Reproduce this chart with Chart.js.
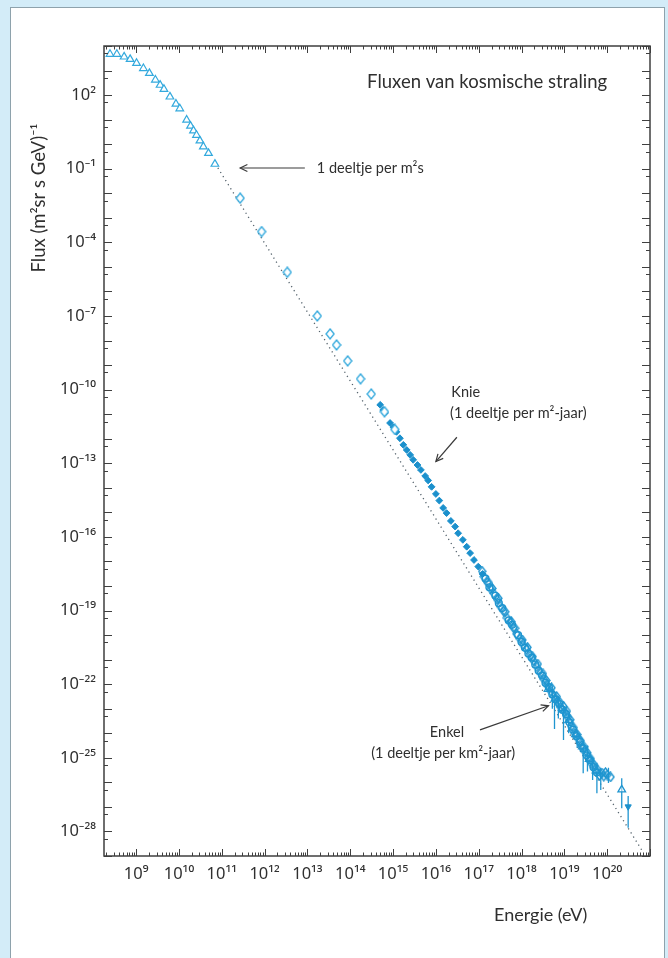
<!DOCTYPE html>
<html><head><meta charset="utf-8">
<script src="https://cdn.jsdelivr.net/npm/chart.js@4.4.1/dist/chart.umd.min.js"></script>
<style>
html,body{margin:0;padding:0;background:#d3ecf8;overflow:hidden;}
#panel{position:absolute;left:10px;top:7px;width:653px;height:980px;background:#fff;border:1px solid #8ea2ac;}
#wrap{position:absolute;left:0;top:0;width:668px;height:958px;}
</style></head><body>
<div id="panel"></div>
<div id="wrap"><canvas id="c" width="668" height="958"></canvas></div>
<script>
// ---- data (log10 of energy in eV, log10 of flux) ----
const triE = [8.39, 8.55, 8.72, 8.86, 9.01, 9.17, 9.31, 9.45, 9.56, 9.65, 9.79, 9.93, 10.02, 10.18, 10.27, 10.34, 10.41, 10.49, 10.57, 10.69, 10.84];
const triF = [3.67, 3.67, 3.56, 3.46, 3.30, 3.09, 2.89, 2.62, 2.41, 2.24, 1.93, 1.64, 1.45, 0.99, 0.74, 0.55, 0.37, 0.14, -0.10, -0.37, -0.81];

const diaE = [11.43, 11.93, 12.53, 13.23, 13.53, 13.68, 13.94, 14.24, 14.49, 14.80, 15.04];
const diaF = [-2.20, -3.56, -5.22, -7.00, -7.73, -8.18, -8.83, -9.56, -10.18, -10.90, -11.62];

const sqE = [14.70, 14.77, 14.81, 14.93, 15.01, 15.08, 15.16, 15.24, 15.32, 15.40, 15.47, 15.57, 15.65, 15.75, 15.82, 15.90, 16.00, 16.08, 16.17, 16.25, 16.35, 16.45, 16.52, 16.63, 16.72, 16.80, 16.89, 16.99, 17.09];
const sqF = [-10.62, -10.83, -10.95, -11.36, -11.53, -11.72, -11.98, -12.25, -12.46, -12.66, -12.86, -13.07, -13.27, -13.52, -13.70, -13.96, -14.25, -14.52, -14.82, -15.03, -15.35, -15.58, -15.85, -16.12, -16.40, -16.66, -16.94, -17.21, -17.51];

const bandDiaE = [17.12, 17.20, 17.28, 17.35, 17.43, 17.50, 17.58, 17.66, 17.73, 17.81, 17.88, 17.96, 18.04, 18.12, 18.20, 18.28, 18.36, 18.44, 18.52, 18.60, 18.68, 18.76, 18.84, 18.92, 19.00, 19.08, 19.16, 19.24, 19.32, 19.40, 19.48, 19.56, 19.64, 19.72, 19.82, 19.92, 20.00, 20.08];
const bandDiaF = [-17.62, -17.85, -18.12, -18.30, -18.55, -18.82, -19.02, -19.30, -19.48, -19.70, -19.95, -20.15, -20.40, -20.58, -20.85, -21.05, -21.30, -21.55, -21.80, -22.05, -22.28, -22.50, -22.72, -22.95, -23.10, -23.35, -23.72, -24.00, -24.22, -24.50, -24.75, -24.98, -25.25, -25.48, -25.72, -25.75, -25.70, -25.78];

const bandDia2E = [17.08, 17.24, 17.32, 17.46, 17.62, 17.76, 17.85, 18.02, 18.14, 18.26, 18.38, 18.50, 18.58, 18.70, 18.82, 18.90, 18.98, 19.06, 19.14, 19.22, 19.30, 19.38, 19.46, 19.54, 19.62, 19.70, 19.78, 19.88, 19.96];
const bandDia2F = [-17.40, -17.88, -18.10, -18.50, -19.05, -19.45, -19.72, -20.20, -20.50, -20.88, -21.18, -21.58, -21.85, -22.15, -22.50, -22.75, -22.90, -23.10, -23.45, -23.78, -24.05, -24.30, -24.55, -24.80, -25.05, -25.30, -25.50, -25.62, -25.60];

const bandCircE = [17.16, 17.25, 17.39, 17.47, 17.55, 17.70, 17.78, 17.92, 18.00, 18.08, 18.16, 18.24, 18.32, 18.40, 18.48, 18.56, 18.64, 18.72, 18.80, 18.88, 18.96, 19.04, 19.12, 19.20, 19.28, 19.36, 19.44, 19.52, 19.60, 19.68, 19.76];
const bandCircF = [-17.70, -18.05, -18.40, -18.70, -18.90, -19.40, -19.58, -20.00, -20.28, -20.52, -20.75, -20.92, -21.20, -21.45, -21.65, -21.95, -22.12, -22.42, -22.62, -22.80, -23.05, -23.22, -23.55, -23.85, -24.12, -24.35, -24.62, -24.90, -25.10, -25.38, -25.60];

const bandTriE = [18.62, 18.78, 18.95, 19.10, 19.26, 19.42, 19.58, 19.74, 20.34];
const bandTriF = [-22.20, -22.60, -22.98, -23.48, -24.05, -24.55, -25.05, -25.52, -26.30];

const downE = [20.49];
const downF = [-26.99];

const errE  = [18.72, 18.77, 18.86, 18.98, 19.10, 19.30, 19.44, 19.54, 19.66, 19.76, 19.85, 20.03, 20.34, 20.49];
const errLo = [-23.00, -23.83, -23.40, -24.27, -24.00, -24.60, -25.63, -25.56, -25.90, -26.44, -26.31, -26.03, -27.05, -27.85];
const errHi = [-22.20, -22.60, -22.55, -22.95, -23.20, -23.90, -24.30, -24.50, -25.00, -25.20, -25.40, -25.40, -25.83, -26.56];

const fitE = [10.85, 20.84];
const fitF = [-0.80, -28.85];

const xTickExp = [9, 10, 11, 12, 13, 14, 15, 16, 17, 18, 19, 20];
const xTickLabels = ['10⁹','10¹⁰','10¹¹','10¹²','10¹³','10¹⁴','10¹⁵','10¹⁶','10¹⁷','10¹⁸','10¹⁹','10²⁰'];
const yTickExp = [2, -1, -4, -7, -10, -13, -16, -19, -22, -25, -28];
const yTickLabels = ['10²','10⁻¹','10⁻⁴','10⁻⁷','10⁻¹⁰','10⁻¹³','10⁻¹⁶','10⁻¹⁹','10⁻²²','10⁻²⁵','10⁻²⁸'];

const chartTitle = 'Fluxen van kosmische straling';
const xTitle = 'Energie (eV)';
const yTitle = 'Flux (m²sr s GeV)⁻¹';
// annotations in data coordinates (log10 E, log10 F)
const notes = [
  {text:'1 deeltje per m²s', e:13.22, f:-0.97, align:'left'},
  {text:'Knie', e:16.36, f:-10.12, align:'left'},
  {text:'(1 deeltje per m²-jaar)', e:16.33, f:-10.98, align:'left'},
  {text:'Enkel', e:16.26, f:-23.95, align:'center'},
  {text:'(1 deeltje per km²-jaar)', e:16.17, f:-24.82, align:'center'}
];
const arrows = [
  {e1:12.94, f1:-0.97, e2:11.43, f2:-0.97},
  {e1:16.49, f1:-11.94, e2:16.00, f2:-12.93},
  {e1:17.03, f1:-23.86, e2:18.63, f2:-22.88}
];

// ---- helpers ----
const pts = (E, F) => E.map((e, i) => ({x: Math.pow(10, e), y: Math.pow(10, F[i])}));
const errPts = [];
errE.forEach((e, i) => {
  errPts.push({x: Math.pow(10, e), y: Math.pow(10, errLo[i])});
  errPts.push({x: Math.pow(10, e), y: Math.pow(10, errHi[i])});
  errPts.push({x: Math.pow(10, e), y: null});
});

function diamond(color, w, h, lw, fill) {
  const c = document.createElement('canvas');
  c.width = w + 2; c.height = h + 2;
  const g = c.getContext('2d');
  g.strokeStyle = color; g.lineWidth = lw;
  g.beginPath();
  g.moveTo(c.width / 2, 1); g.lineTo(c.width - 1, c.height / 2);
  g.lineTo(c.width / 2, c.height - 1); g.lineTo(1, c.height / 2); g.closePath();
  if (fill) { g.fillStyle = fill; g.fill(); }
  g.stroke();
  return c;
}

const C1 = '#33a9dd';
const C2 = '#1b90cc';
const C3 = '#1f95d0';
const TXT = '#2f2f2f';
const FONT = "Lato, 'Noto Sans', sans-serif";

const framePlugin = {
  id: 'frame',
  afterDatasetsDraw(chart) {
    const {ctx, chartArea: a, scales: {x, y}} = chart;
    ctx.save();
    ctx.strokeStyle = '#3f3f3f';
    ctx.lineWidth = 1;
    ctx.beginPath();
    for (let n = 8; n <= 21; n++) {
      for (let k = 1; k <= 9; k++) {
        const v = k * Math.pow(10, n);
        if (v < x.min * 0.999 || v > x.max * 1.001) continue;
        const px = Math.round(x.getPixelForValue(v)) + 0.5;
        const L = k === 1 ? 7 : 3.5;
        ctx.moveTo(px, a.bottom); ctx.lineTo(px, a.bottom - L);
        ctx.moveTo(px, a.top); ctx.lineTo(px, a.top + L);
      }
    }
    for (let n = -29; n <= 4; n++) {
      const list = [[Math.pow(10, n), 8], [5 * Math.pow(10, n - 1), 4]];
      for (const [v, L] of list) {
        if (v < y.min * 0.999 || v > y.max * 1.001) continue;
        const py = Math.round(y.getPixelForValue(v)) + 0.5;
        ctx.moveTo(a.left, py); ctx.lineTo(a.left + L, py);
        ctx.moveTo(a.right, py); ctx.lineTo(a.right - L, py);
      }
    }
    ctx.stroke();
    ctx.lineWidth = 1.5;
    ctx.strokeRect(a.left, a.top, a.right - a.left, a.bottom - a.top);

    const P = (e, f) => [x.getPixelForValue(Math.pow(10, e)), y.getPixelForValue(Math.pow(10, f))];
    // arrows
    ctx.strokeStyle = '#3a3a3a';
    ctx.lineWidth = 1.2;
    for (const ar of arrows) {
      const [x1, y1] = P(ar.e1, ar.f1);
      const [x2, y2] = P(ar.e2, ar.f2);
      ctx.beginPath(); ctx.moveTo(x1, y1); ctx.lineTo(x2, y2); ctx.stroke();
      const ang = Math.atan2(y2 - y1, x2 - x1);
      const hl = 8, hw = 0.45;
      ctx.beginPath();
      ctx.moveTo(x2 - hl * Math.cos(ang - hw), y2 - hl * Math.sin(ang - hw));
      ctx.lineTo(x2, y2);
      ctx.lineTo(x2 - hl * Math.cos(ang + hw), y2 - hl * Math.sin(ang + hw));
      ctx.stroke();
    }
    // texts
    ctx.fillStyle = TXT;
    ctx.textBaseline = 'middle';
    ctx.font = '14.5px ' + FONT;
    for (const n of notes) {
      const [px, py] = P(n.e, n.f);
      ctx.textAlign = n.align;
      ctx.fillText(n.text, px, py);
    }
    ctx.font = '18.5px ' + FONT;
    ctx.textAlign = 'right';
    const [tx, ty] = P(20.0, 2.53);
    ctx.fillText(chartTitle, tx, ty);
    ctx.restore();
  },
  afterDraw(chart) {
    const {ctx} = chart;
    ctx.save();
    ctx.fillStyle = TXT;
    ctx.font = '18px ' + FONT;
    ctx.textBaseline = 'middle';
    ctx.textAlign = 'left';
    ctx.fillText(xTitle, 494, 915);
    ctx.translate(39, 198);
    ctx.rotate(-Math.PI / 2);
    ctx.textAlign = 'center';
    ctx.font = '18.5px ' + FONT;
    ctx.fillText(yTitle, 0, 0);
    ctx.restore();
  }
};

new Chart(document.getElementById('c'), {
  type: 'scatter',
  data: {
    datasets: [
      {label: 'fit', data: pts(fitE, fitF), showLine: true, borderColor: '#52606a', borderWidth: 1.3,
       borderDash: [1.2, 3.6], pointRadius: 0, order: 10},
      {label: 'err', data: errPts, showLine: true, spanGaps: false, borderColor: C3, borderWidth: 1.3,
       pointRadius: 0, order: 5},
      {label: 'tri', data: pts(triE, triF), pointStyle: 'triangle', pointRadius: 4.4, borderColor: C1,
       backgroundColor: '#ffffff', borderWidth: 1.2},
      {label: 'dia', data: pts(diaE, diaF), pointStyle: diamond(C1, 8, 10, 1.3, '#ffffff'), pointRadius: 5},
      {label: 'sq', data: pts(sqE, sqF), pointStyle: 'rectRot', pointRadius: 3.4, borderColor: C2,
       backgroundColor: C2, borderWidth: 1},
      {label: 'bandDia', data: pts(bandDiaE, bandDiaF), pointStyle: diamond(C3, 7, 9, 1.4, null), pointRadius: 5},
      {label: 'bandDia2', data: pts(bandDia2E, bandDia2F), pointStyle: diamond(C3, 7, 9, 1.4, null), pointRadius: 5},
      {label: 'bandCirc', data: pts(bandCircE, bandCircF), pointStyle: 'circle', pointRadius: 3.4, borderColor: C3,
       backgroundColor: 'rgba(0,0,0,0)', borderWidth: 1.4},
      {label: 'bandTri', data: pts(bandTriE, bandTriF), pointStyle: 'triangle', pointRadius: 4.4, borderColor: C3,
       backgroundColor: 'rgba(255,255,255,0.5)', borderWidth: 1.3},
      {label: 'down', data: pts(downE, downF), pointStyle: 'triangle', rotation: 180, pointRadius: 3.6, borderColor: C2,
       backgroundColor: C2, borderWidth: 1}
    ]
  },
  options: {
    responsive: false,
    animation: false,
    devicePixelRatio: 1,
    layout: {padding: {left: 0, top: 46, right: 18, bottom: 0}},
    plugins: {legend: {display: false}, tooltip: {enabled: false}},
    scales: {
      x: {
        type: 'logarithmic',
        min: Math.pow(10, 8.25), max: Math.pow(10, 21),
        afterBuildTicks: s => { s.ticks = xTickExp.map(e => ({value: Math.pow(10, e)})); },
        afterFit: s => { s.height = 102; },
        grid: {display: false, drawTicks: false},
        border: {display: false},
        ticks: {
          autoSkip: false, maxRotation: 0, minRotation: 0, padding: 8,
          color: TXT, font: {family: "'Noto Sans', sans-serif", size: 16.5},
          callback: (v, i) => xTickLabels[i]
        }
      },
      y: {
        type: 'logarithmic',
        min: 1e-29, max: 1e4,
        afterBuildTicks: s => { s.ticks = yTickExp.map(e => ({value: Math.pow(10, e)})); },
        afterFit: s => { s.width = 104; },
        grid: {display: false, drawTicks: false},
        border: {display: false},
        ticks: {
          autoSkip: false, padding: 8,
          color: TXT, font: {family: "'Noto Sans', sans-serif", size: 16.5},
          callback: (v, i) => yTickLabels[i]
        }
      }
    }
  },
  plugins: [framePlugin]
});
</script>
</body></html>
